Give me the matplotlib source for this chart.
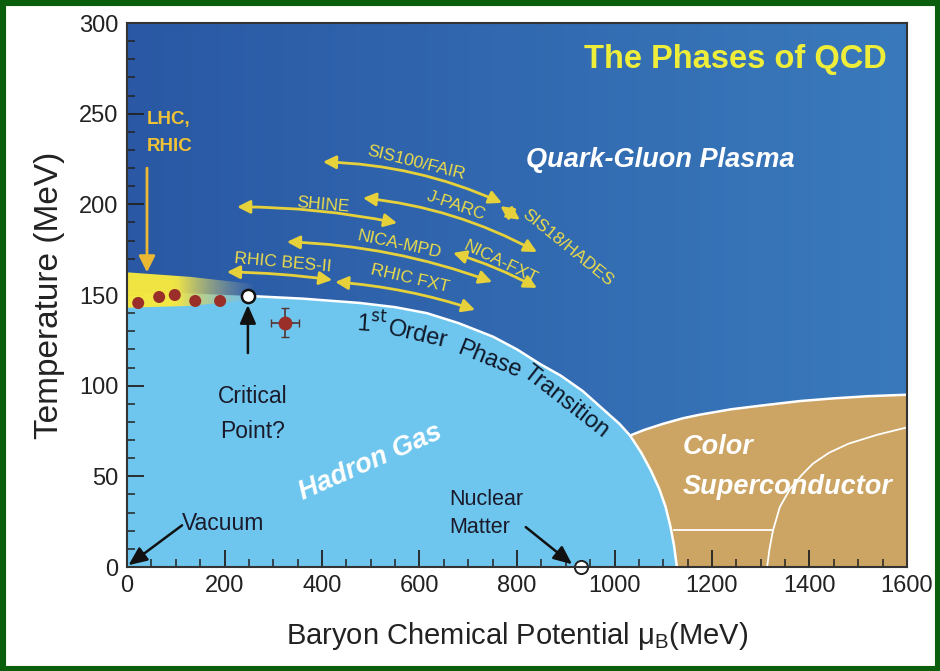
import numpy as np
import matplotlib
matplotlib.use("Agg")
import matplotlib.pyplot as plt
from matplotlib.patches import FancyArrowPatch, Rectangle, Polygon
from matplotlib.ticker import MultipleLocator

# ---------------- data ----------------
# hadron gas / QGP boundary (mu_B in MeV, T in MeV)
hg_mu = [0, 120, 248, 360, 478, 550, 615, 680, 751, 800, 847, 890, 935, 960, 985,
         1010, 1032, 1055, 1075, 1092, 1105, 1115, 1122, 1128]
hg_T = [151, 151, 149.5, 148, 145.6, 143.3, 140, 134.5, 127, 120, 112, 105.5, 97, 91, 85,
        79, 72.5, 63, 53, 43, 33, 22, 12, 0]

# color superconductor upper boundary
cs_top_mu = [1032, 1060, 1100, 1140, 1175, 1240, 1300, 1380, 1450, 1520, 1600]
cs_top_T = [72.5, 75.5, 79, 82, 84, 87, 89, 91.5, 93, 94.2, 95]

# inner lines of color superconductor
cs_arc_mu = [1313, 1318, 1325, 1339, 1360, 1385, 1407, 1440, 1480, 1540, 1600]
cs_arc_T = [0, 10, 20, 33, 43, 51, 57, 63, 68, 73, 77]
cs_line_mu = [1122, 1325]
cs_line_T = [20.4, 20.4]

# lattice / freeze-out points
lattice_mu = [23, 66, 98, 140, 191]
lattice_T = [145.6, 148.9, 150.0, 146.7, 146.7]

# critical point & experimental point
crit_mu, crit_T = 248, 149.5
exp_mu, exp_T, exp_mu_err, exp_T_err = 324, 134.6, 28, 8
nuc_mu, nuc_T = 932, 0

# facility ranges (double arrows)
fac_names = ["SIS100/FAIR", "J-PARC", "SIS18/HADES", "SHINE", "NICA-MPD",
             "NICA-FXT", "RHIC BES-II", "RHIC FXT"]
fac_mu0 = [402, 484, 766, 226, 328, 669, 205, 427]
fac_T0 = [223.4, 203.5, 199.0, 198.6, 179.3, 173.2, 162.7, 157.2]
fac_mu1 = [769, 841, 806, 554, 749, 841, 421, 714]
fac_T1 = [200.8, 173.7, 191.5, 189.7, 157.2, 153.9, 158.3, 141.8]
fac_rad = [-0.10, -0.10, 0.0, -0.05, -0.08, -0.05, -0.03, -0.06]
fac_lab_mu = [592, 676, 904, 402, 558, 767, 320, 580]
fac_lab_T = [223, 199, 176, 200, 178, 168, 168, 159]
fac_lab_rot = [-14, -19, -39, -5, -12, -26, -5, -13]

x_ticks = [0, 200, 400, 600, 800, 1000, 1200, 1400, 1600]
y_ticks = [0, 50, 100, 150, 200, 250, 300]

# ---------------- styling ----------------
FONT = ["Liberation Sans", "DejaVu Sans"]
plt.rcParams['font.family'] = FONT

dark_l = np.array([0x2a, 0x58, 0xa4]) / 255
dark_r = np.array([0x3c, 0x80, 0xc0]) / 255
light_blue = "#6ec6ee"
tan = "#cca463"
arrow_yellow = "#e6d13a"
label_yellow = "#ecdc4a"

fig = plt.figure(figsize=(9.40, 6.71), dpi=100)
ax = fig.add_axes([127 / 940, 104 / 671, 780 / 940, 544 / 671])
ax.set_xlim(0, 1600)
ax.set_ylim(0, 300)

# background gradient
nx, ny = 200, 60
gx = np.linspace(0, 1, nx)[None, :]
f = np.clip(0.85 * gx, 0, 1)
img = dark_l[None, None, :] * (1 - f[..., None]) + dark_r[None, None, :] * f[..., None]
img = np.broadcast_to(img, (ny, nx, 3))
ax.imshow(img, extent=[0, 1600, 0, 300], aspect='auto', origin='lower', zorder=0)

# hadron gas region
hg_poly = Polygon(list(zip(hg_mu, hg_T)) + [(0, 0)], closed=True,
                  facecolor=light_blue, edgecolor='none', zorder=1)
ax.add_patch(hg_poly)

# color superconductor region
i0 = hg_mu.index(1032)
cs_pts = list(zip(hg_mu[i0:], hg_T[i0:])) + [(1600, 0)] + \
    list(zip(cs_top_mu[::-1], cs_top_T[::-1]))
ax.add_patch(Polygon(cs_pts, closed=True, facecolor=tan, edgecolor='none', zorder=1))

# white boundary lines
ic = hg_mu.index(crit_mu)
ax.plot(hg_mu[ic:], hg_T[ic:], color='white', lw=1.8, zorder=3, solid_joinstyle='round')
ax.plot(cs_top_mu, cs_top_T, color='white', lw=1.8, zorder=3, solid_joinstyle='round')
ax.plot(cs_arc_mu, cs_arc_T, color='white', lw=1.3, zorder=3, solid_joinstyle='round')
ax.plot(cs_line_mu, cs_line_T, color='white', lw=1.3, zorder=3)

# yellow crossover band (gradient)
bx = np.linspace(0, 1, 300)
alpha = np.clip(1 - (bx - 0.4) / 0.6, 0, 1) ** 0.9
yel = np.array([0.97, 0.92, 0.25])
gry = np.array([0.66, 0.70, 0.62])
t = np.clip((bx - 0.35) / 0.6, 0, 1)[:, None]
col = yel * (1 - t) + gry * t
band = np.zeros((2, 300, 4))
band[..., :3] = col[None, :, :]
band[..., 3] = alpha[None, :] * 0.97
bim = ax.imshow(band, extent=[0, 262, 140, 164], aspect='auto', origin='lower', zorder=2)
band_clip = Polygon([(0, 143), (130, 144), (262, 147.5), (262, 156), (130, 160), (0, 162.5)],
                    closed=True, transform=ax.transData, facecolor='none', edgecolor='none')
ax.add_patch(band_clip)
bim.set_clip_path(band_clip)

# lattice points
ax.scatter(lattice_mu, lattice_T, s=75, color='#9a2f2a', edgecolors='none', zorder=5)

# experimental point with error bars
ax.errorbar([exp_mu], [exp_T], xerr=[exp_mu_err], yerr=[exp_T_err], fmt='o',
            color='#9a2f2a', ms=9, ecolor='#553333', elinewidth=1.2, capsize=3, zorder=5)

# critical point and nuclear matter point
ax.scatter([crit_mu], [crit_T], s=90, facecolor='white', edgecolor='#111111', lw=1.8, zorder=6)
ax.scatter([nuc_mu], [nuc_T], s=90, facecolor='white', edgecolor='#222222', lw=1.4,
           zorder=6, clip_on=False)

# facility arrows
for name, m0, t0, m1, t1, r, lm, lt, rot in zip(fac_names, fac_mu0, fac_T0, fac_mu1, fac_T1,
                                                 fac_rad, fac_lab_mu, fac_lab_T, fac_lab_rot):
    arr = FancyArrowPatch((m0, t0), (m1, t1), connectionstyle=f"arc3,rad={r}",
                          arrowstyle="<|-|>,head_length=0.55,head_width=0.28",
                          mutation_scale=14, color=arrow_yellow, lw=2.0,
                          shrinkA=0, shrinkB=0, zorder=4)
    ax.add_patch(arr)
    ax.text(lm, lt, name, color=label_yellow, fontsize=12.5, rotation=rot,
            ha='center', va='center', rotation_mode='anchor', zorder=4)

# LHC/RHIC arrow
ax.add_patch(FancyArrowPatch((41, 220), (41, 162.5), arrowstyle="-|>,head_length=0.7,head_width=0.35",
                             mutation_scale=14, color='#ebb833', lw=2.0, shrinkA=0, shrinkB=0, zorder=4))
ax.text(41, 247, "LHC,", color='#f0c235', fontsize=13.5, fontweight='bold', ha='left', va='center')
ax.text(41, 232, "RHIC", color='#f0c235', fontsize=13.5, fontweight='bold', ha='left', va='center')

# critical point arrow
ax.add_patch(FancyArrowPatch((248, 118), (248, 144.5), arrowstyle="-|>,head_length=0.8,head_width=0.35",
                             mutation_scale=14, color='#111111', lw=1.8, shrinkA=0, shrinkB=0, zorder=5))
ax.text(258, 94, "Critical", color='#1a1a2a', fontsize=16.5, ha='center', va='center')
ax.text(258, 75, "Point?", color='#1a1a2a', fontsize=16.5, ha='center', va='center')

# vacuum arrow
ax.add_patch(FancyArrowPatch((113, 23), (3, 1), arrowstyle="-|>,head_length=0.8,head_width=0.35",
                             mutation_scale=14, color='#111111', lw=1.8, shrinkA=0, shrinkB=0,
                             zorder=5, clip_on=False))
ax.text(113, 24, "Vacuum", color='#1a1a2a', fontsize=16.5, ha='left', va='center')

# nuclear matter arrow
ax.add_patch(FancyArrowPatch((818, 22), (913, 1.5), arrowstyle="-|>,head_length=0.8,head_width=0.35",
                             mutation_scale=14, color='#111111', lw=1.8, shrinkA=0, shrinkB=0, zorder=5))
ax.text(662, 37, "Nuclear", color='#1a1a2a', fontsize=15.5, ha='left', va='center')
ax.text(662, 22, "Matter", color='#1a1a2a', fontsize=15.5, ha='left', va='center')

# region labels
ax.text(1247, 280, "The Phases of QCD", color='#eeee3a', fontsize=23.5, fontweight='bold',
        ha='center', va='center')
ax.text(1093, 224.5, "Quark-Gluon Plasma", color='white', fontsize=19.5, fontweight='bold',
        style='italic', ha='center', va='center')
ax.text(500, 58, "Hadron Gas", color='white', fontsize=19.5, fontweight='bold', style='italic',
        ha='center', va='center', rotation=24, rotation_mode='anchor')
ax.text(1140, 66, "Color", color='white', fontsize=19.5, fontweight='bold', style='italic',
        ha='left', va='center')
ax.text(1140, 44, "Superconductor", color='white', fontsize=19.5, fontweight='bold', style='italic',
        ha='left', va='center')

# 1st order phase transition (curved text, word by word)
ax.text(502, 134, r"1$^{\rm st}$", color='#101828', fontsize=17, rotation=-4,
        ha='center', va='center', rotation_mode='anchor')
ax.text(597, 128, "Order", color='#101828', fontsize=17, rotation=-13,
        ha='center', va='center', rotation_mode='anchor')
ax.text(743, 114, "Phase", color='#101828', fontsize=17, rotation=-22,
        ha='center', va='center', rotation_mode='anchor')
ax.text(900, 91, "Transition", color='#101828', fontsize=17, rotation=-38,
        ha='center', va='center', rotation_mode='anchor')

# axes styling
ax.set_xticks(x_ticks)
ax.set_yticks(y_ticks)
ax.xaxis.set_minor_locator(MultipleLocator(50))
ax.yaxis.set_minor_locator(MultipleLocator(10))
ax.tick_params(which='major', direction='in', length=12, width=1.3, color='#222222',
               labelsize=17, labelcolor='#222222', top=False, right=False, pad=6)
ax.tick_params(which='minor', direction='in', length=6, width=1.1, color='#222222',
               top=False, right=False)
for s in ax.spines.values():
    s.set_color('#333333')
    s.set_linewidth(1.5)
    s.set_zorder(7)

ax.set_xlabel(r"Baryon Chemical Potential $\mathregular{\mu_B}$(MeV)", fontsize=21,
              color='#222222', labelpad=16)
ax.set_ylabel("Temperature (MeV)", fontsize=24, color='#222222', labelpad=10)

# green frame
fig.patches.append(Rectangle((0, 0), 1, 1, transform=fig.transFigure, fill=False,
                             edgecolor='#0b5e0b', lw=8, zorder=10))

fig.savefig("out.png", dpi=100, facecolor='white')
